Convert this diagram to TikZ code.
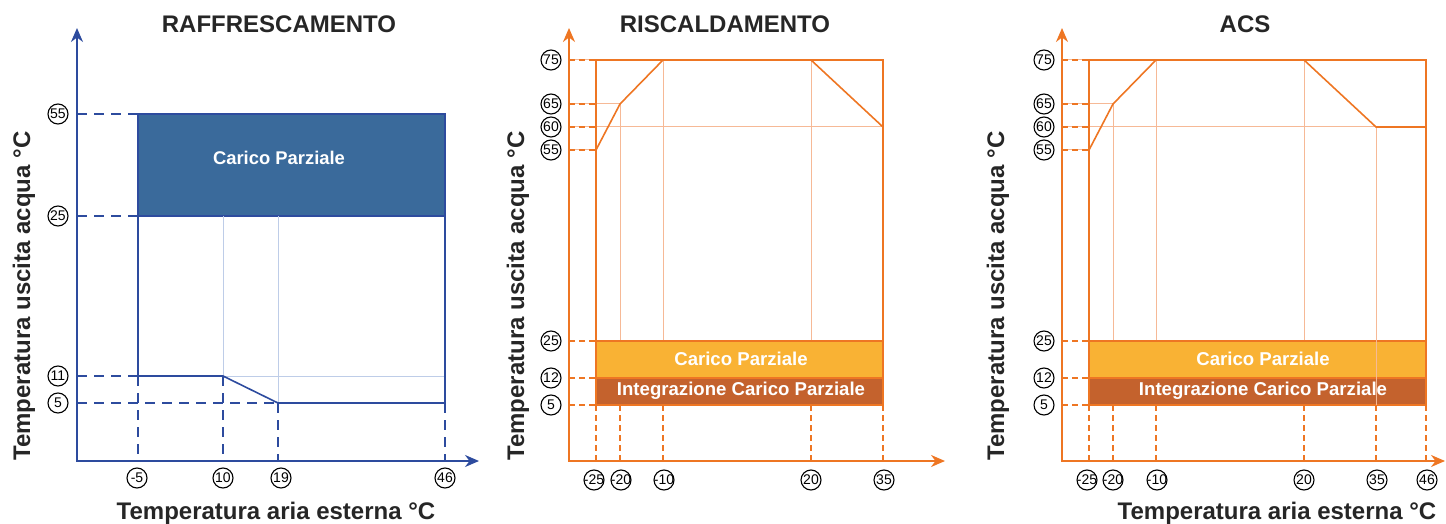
\documentclass[tikz,border=0pt]{standalone}
\usepackage{fontspec}
\setmainfont{Liberation Sans}
\usepackage{tikz}
\usetikzlibrary{arrows.meta}
\definecolor{bluax}{RGB}{45,75,158}
\definecolor{bluefill}{RGB}{58,106,155}
\definecolor{bluelight}{RGB}{190,205,232}
\definecolor{orax}{RGB}{238,118,35}
\definecolor{orlight}{RGB}{246,185,150}
\definecolor{bandyel}{RGB}{249,178,52}
\definecolor{bandbrn}{RGB}{196,98,45}
\tikzset{
	val/.style={circle, draw=black, line width=0.55pt, inner sep=0pt, minimum size=10pt, font=\fontsize{7}{8}\selectfont},
	axis/.style={line width=1pt, {Stealth[length=7pt,width=6pt]}-{Stealth[length=7pt,width=6pt]}},
	title/.style={anchor=base, font=\fontsize{12}{14}\selectfont\bfseries, text=black!85},
	axlabel/.style={anchor=base, font=\fontsize{12}{14}\selectfont\bfseries, text=black!85},
	bandtext/.style={font=\fontsize{9.3}{11}\selectfont\bfseries, text=white},
	edge/.style={line width=0.8pt},
	thin/.style={line width=0.5pt},
	bluedash/.style={line width=0.8pt, dash pattern=on 5pt off 3.5pt},
	ordash/.style={line width=0.8pt, dash pattern=on 3pt off 2pt}
}

\begin{document}
\begin{tikzpicture}[x=0.5pt, y=-0.5pt]
			%%%%% START %%%%%
			\useasboundingbox (0,0) rectangle (1446,524);
			
			%%%%% RAFFRESCAMENTO %%%%%
			\node[title] (t1) at (279,33) {RAFFRESCAMENTO};
			\draw[bluax, axis] (77,28) -- (77,461) -- (479,461);
			
			\draw[bluax, edge, fill=bluefill] (138,114) rectangle (445,216);
			\node[bandtext, font=\fontsize{9.2}{11}\selectfont\bfseries] (cp1) at (279,158) {Carico Parziale};
			
			\draw[bluelight, thin] (223,216) -- (223,376);
			\draw[bluelight, thin] (278,216) -- (278,403);
			\draw[bluelight, thin] (223,376) -- (445,376);
			
			\draw[bluax, edge] (138,216) -- (138,376) -- (223,376) -- (278,403) -- (445,403) -- (445,216);
			
			\draw[bluax, bluedash] (77,114) -- (138,114);
			\draw[bluax, bluedash] (77,216) -- (138,216);
			\draw[bluax, bluedash] (77,376) -- (138,376);
			\draw[bluax, bluedash] (77,403) -- (278,403);
			\draw[bluax, bluedash] (138,376) -- (138,461);
			\draw[bluax, bluedash] (223,376) -- (223,461);
			\draw[bluax, bluedash] (278,403) -- (278,461);
			\draw[bluax, bluedash] (445,403) -- (445,461);
			
			\node[val] (ra55) at (58,114) {\makebox[0pt]{55}};
			\node[val] (ra25) at (58,216) {\makebox[0pt]{25}};
			\node[val] (ra11) at (58,376) {\makebox[0pt]{11}};
			\node[val] (ra5) at (58,403) {\makebox[0pt]{5}};
			\node[val] (rb-5) at (137,478) {\makebox[0pt]{-5}};
			\node[val] (rb10) at (223,478) {\makebox[0pt]{10}};
			\node[val] (rb19) at (281,478) {\makebox[0pt]{19}};
			\node[val] (rb46) at (445,478) {\makebox[0pt]{46}};
			
			\node[axlabel, rotate=90] (yl1) at (30,296) {Temperatura uscita acqua °C};
			\node[axlabel] (xl1) at (276,519) {Temperatura aria esterna °C};
			
			%%%%% RISCALDAMENTO %%%%%
			\node[title] (t2) at (725,33) {RISCALDAMENTO};
			\draw[orax, axis] (569,28) -- (569,461) -- (945,461);
			
			\draw[orlight, thin] (569,60) -- (596,60);
			\draw[orlight, thin] (569,104) -- (620,104);
			\draw[orlight, thin] (569,127) -- (883,127);
			\draw[orlight, thin] (569,150) -- (596,150);
			\draw[orlight, thin] (620,104) -- (620,341);
			\draw[orlight, thin] (663,60) -- (663,341);
			\draw[orlight, thin] (811,60) -- (811,341);
			
			\draw[orax, edge, fill=bandyel] (596,341) rectangle (883,378);
			\draw[orax, edge, fill=bandbrn] (596,378) rectangle (883,405);
			\node[bandtext] (cp2) at (741,359) {Carico Parziale};
			\node[bandtext] (icp2) at (741,391) {Integrazione Carico Parziale};
			
			\draw[orax, edge] (596,405) -- (596,60) -- (883,60) -- (883,405);
			\draw[orax, edge] (596,150) -- (620,104) -- (663,60) -- (811,60) -- (883,127);
			
			\draw[orax, ordash] (569,60) -- (596,60);
			\draw[orax, ordash] (569,104) -- (596,104);
			\draw[orax, ordash] (569,127) -- (596,127);
			\draw[orax, ordash] (569,150) -- (596,150);
			\draw[orax, ordash] (569,341) -- (596,341);
			\draw[orax, ordash] (569,378) -- (596,378);
			\draw[orax, ordash] (569,405) -- (596,405);
			\draw[orax, ordash] (596,405) -- (596,461);
			\draw[orax, ordash] (620,405) -- (620,461);
			\draw[orax, ordash] (663,405) -- (663,461);
			\draw[orax, ordash] (811,405) -- (811,461);
			\draw[orax, ordash] (883,405) -- (883,461);
			
			\node[val] (ha75) at (551,60) {\makebox[0pt]{75}};
			\node[val] (ha65) at (551,104) {\makebox[0pt]{65}};
			\node[val] (ha60) at (551,127) {\makebox[0pt]{60}};
			\node[val] (ha55) at (551,150) {\makebox[0pt]{55}};
			\node[val] (ha25) at (551,341) {\makebox[0pt]{25}};
			\node[val] (ha12) at (551,378) {\makebox[0pt]{12}};
			\node[val] (ha5) at (551,405) {\makebox[0pt]{5}};
			\node[val] (hb-25) at (594,480) {\makebox[0pt]{-25}};
			\node[val] (hb-20) at (621,480) {\makebox[0pt]{-20}};
			\node[val] (hb-10) at (664,480) {\makebox[0pt]{-10}};
			\node[val] (hb20) at (811,480) {\makebox[0pt]{20}};
			\node[val] (hb35) at (884,480) {\makebox[0pt]{35}};
			
			\node[axlabel, rotate=90] (yl2) at (524,296) {Temperatura uscita acqua °C};
			
			%%%%% ACS %%%%%
			\node[title] (t3) at (1245,33) {ACS};
			\draw[orax, axis] (1062,28) -- (1062,461) -- (1445,461);
			
			\draw[orlight, thin] (1062,60) -- (1089,60);
			\draw[orlight, thin] (1062,104) -- (1113,104);
			\draw[orlight, thin] (1062,127) -- (1426,127);
			\draw[orlight, thin] (1062,150) -- (1089,150);
			\draw[orlight, thin] (1113,104) -- (1113,341);
			\draw[orlight, thin] (1156,60) -- (1156,341);
			\draw[orlight, thin] (1304,60) -- (1304,341);
			
			\draw[orax, edge, fill=bandyel] (1089,341) rectangle (1426,378);
			\draw[orax, edge, fill=bandbrn] (1089,378) rectangle (1426,405);
			\node[bandtext] (cp3) at (1263,359) {Carico Parziale};
			\node[bandtext] (icp3) at (1263,391) {Integrazione Carico Parziale};
			\draw[orlight, thin] (1376,127) -- (1376,405);
			
			\draw[orax, edge] (1089,405) -- (1089,60) -- (1426,60) -- (1426,405);
			\draw[orax, edge] (1089,150) -- (1113,104) -- (1156,60) -- (1304,60) -- (1376,127) -- (1426,127);
			
			\draw[orax, ordash] (1062,60) -- (1089,60);
			\draw[orax, ordash] (1062,104) -- (1089,104);
			\draw[orax, ordash] (1062,127) -- (1089,127);
			\draw[orax, ordash] (1062,150) -- (1089,150);
			\draw[orax, ordash] (1062,341) -- (1089,341);
			\draw[orax, ordash] (1062,378) -- (1089,378);
			\draw[orax, ordash] (1062,405) -- (1089,405);
			\draw[orax, ordash] (1089,405) -- (1089,461);
			\draw[orax, ordash] (1113,405) -- (1113,461);
			\draw[orax, ordash] (1156,405) -- (1156,461);
			\draw[orax, ordash] (1304,405) -- (1304,461);
			\draw[orax, ordash] (1376,405) -- (1376,461);
			\draw[orax, ordash] (1426,405) -- (1426,461);
			
			\node[val] (aa75) at (1044,60) {\makebox[0pt]{75}};
			\node[val] (aa65) at (1044,104) {\makebox[0pt]{65}};
			\node[val] (aa60) at (1044,127) {\makebox[0pt]{60}};
			\node[val] (aa55) at (1044,150) {\makebox[0pt]{55}};
			\node[val] (aa25) at (1044,341) {\makebox[0pt]{25}};
			\node[val] (aa12) at (1044,378) {\makebox[0pt]{12}};
			\node[val] (aa5) at (1044,405) {\makebox[0pt]{5}};
			\node[val] (ab-25) at (1087,480) {\makebox[0pt]{-25}};
			\node[val] (ab-20) at (1113,480) {\makebox[0pt]{-20}};
			\node[val] (ab-10) at (1157,480) {\makebox[0pt]{-10}};
			\node[val] (ab20) at (1304,480) {\makebox[0pt]{20}};
			\node[val] (ab35) at (1377,480) {\makebox[0pt]{35}};
			\node[val] (ab46) at (1427,480) {\makebox[0pt]{46}};
			
			\node[axlabel, rotate=90] (yl3) at (1004,296) {Temperatura uscita acqua °C};
			\node[axlabel] (xl3) at (1277,519) {Temperatura aria esterna °C};
			
			%%%%% END %%%%%
\end{tikzpicture}
\end{document}
